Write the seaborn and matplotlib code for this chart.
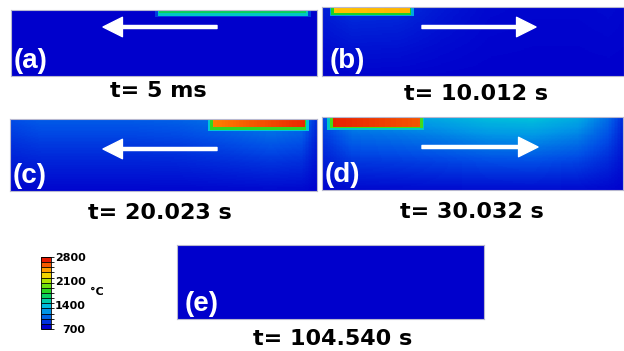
import numpy as np
import matplotlib
matplotlib.use('Agg')
import matplotlib.pyplot as plt
from matplotlib.colors import LinearSegmentedColormap, Normalize
import matplotlib.cm as cm
import seaborn as sns

# ---------------- data ----------------
panel_labels = ['(a)', '(b)', '(c)', '(d)', '(e)']
time_labels = ['t= 5 ms', 't= 10.012 s', 't= 20.023 s', 't= 30.032 s', 't= 104.540 s']
scan_direction = ['left', 'right', 'left', 'right', None]

cbar_ticks = [700, 1400, 2100, 2800]
cbar_bands = 14
T_min, T_max = 700, 2800

# laser track on the top surface (fraction of sample length / depth)
spot_start = [0.487, 0.040, 0.660, 0.033, None]
spot_end = [0.964, 0.288, 0.958, 0.326, None]
spot_depth = [0.05, 0.09, 0.12, 0.13, None]
spot_T_left = [1680, 2380, 2550, 2780, None]
spot_T_right = [1680, 2420, 2760, 2650, None]
halo_T = [1450, 1800, 1850, 1900, None]
halo2_T = [900, 1250, 1400, 1450, None]

# substrate surface temperature outside the track
surf_pos = [0.0, 0.10, 0.25, 0.40, 0.55, 0.70, 0.85, 0.95, 1.0]
surf_T = [
    [700, 700, 700, 700, 700, 700, 700, 700, 700],
    [800, 860, 850, 780, 730, 720, 720, 730, 720],
    [950, 1000, 1000, 1000, 1020, 1080, 1150, 1100, 850],
    [950, 1180, 1220, 1280, 1360, 1380, 1280, 1060, 850],
    [700, 700, 700, 700, 700, 700, 700, 700, 700],
]
depth_pos = [0.0, 0.3, 0.6, 1.0]
depth_frac = [1.0, 0.68, 0.38, 0.06]

# colour scale nodes (°C -> colour)
cmap_T = [700, 950, 1200, 1400, 1600, 1800, 2100, 2350, 2550, 2800]
cmap_col = [(0, 0, 0.80), (0, 0.30, 0.90), (0, 0.60, 0.90), (0, 0.78, 0.85),
            (0, 0.80, 0.50), (0.10, 0.82, 0.15), (0.60, 0.90, 0.0),
            (1.0, 0.82, 0.0), (1.0, 0.50, 0.0), (0.90, 0.10, 0.0)]

# ---------------- layout (pixels) ----------------
W, H = 624, 351
boxes = [(11, 10, 306, 66), (322, 7, 302, 69), (10, 119, 307, 72),
         (322, 117, 301, 73), (177, 245, 307, 74)]
arrows = [(217, 103, 27), (422, 536, 27), (217, 103, 149), (422, 538, 147), None]
label_dx = [0.008, 0.026, 0.008, 0.010, 0.024]
time_xy = [(158, 91), (476, 94), (160, 213), (472, 212), (333, 339)]

NR, NC = 60, 200


def frac(b):
    x, y, w, h = b
    return [x / W, 1 - (y + h) / H, w / W, h / H]


cmap = LinearSegmentedColormap.from_list(
    'temp', [((t - T_min) / (T_max - T_min), c) for t, c in zip(cmap_T, cmap_col)])


def build_field(i):
    xs = (np.arange(NC) + 0.5) / NC
    ys = (np.arange(NR) + 0.5) / NR
    top = np.interp(xs, surf_pos, surf_T[i])
    dec = np.interp(ys, depth_pos, depth_frac)
    F = T_min + np.outer(dec, top - T_min)
    if spot_start[i] is not None:
        s0, s1, d = spot_start[i], spot_end[i], spot_depth[i]
        for hx, hy, ht in [(0.016, 0.05, halo2_T[i]), (0.008, 0.025, halo_T[i])]:
            mx = (xs >= s0 - hx) & (xs <= s1 + hx)
            my = ys <= d + hy
            F[np.ix_(my, mx)] = np.maximum(F[np.ix_(my, mx)], ht)
        sx = (xs >= s0) & (xs <= s1)
        sy = ys <= d
        vals = np.interp(xs[sx], [s0, s1], [spot_T_left[i], spot_T_right[i]])
        F[np.ix_(sy, sx)] = vals[None, :]
    return F


fig = plt.figure(figsize=(W / 100, H / 100), dpi=100)

for i in range(5):
    ax = fig.add_axes(frac(boxes[i]))
    sns.heatmap(build_field(i), ax=ax, cmap=cmap, vmin=T_min, vmax=T_max,
                cbar=False, xticklabels=False, yticklabels=False)
    for sp in ax.spines.values():
        sp.set_visible(True)
        sp.set_color('#b8b8d0')
        sp.set_linewidth(0.8)
    ax.text(label_dx[i], 0.03, panel_labels[i], transform=ax.transAxes,
            color='white', fontsize=20, fontweight='bold',
            family=['Liberation Sans', 'DejaVu Sans'], ha='left', va='bottom')
    if arrows[i] is not None:
        x0, x1, y = arrows[i]
        ax.annotate('', xy=(x1, H - y), xytext=(x0, H - y),
                    xycoords='figure pixels', textcoords='figure pixels',
                    arrowprops=dict(facecolor='white', edgecolor='white',
                                    width=2.2, headwidth=14, headlength=14,
                                    shrink=0))
    tx, ty = time_xy[i]
    fig.text(tx / W, 1 - ty / H, time_labels[i], fontsize=16, fontweight='bold',
             family='DejaVu Sans', ha='center', va='center', color='black')

# colour bar
cax = fig.add_axes(frac((41, 257, 10, 72)))
sm = cm.ScalarMappable(norm=Normalize(T_min, T_max), cmap=cmap.resampled(cbar_bands))
cb = fig.colorbar(sm, cax=cax, ticks=cbar_ticks)
cb.outline.set_linewidth(0.6)
cax.tick_params(length=0, pad=25)
cax.set_yticklabels([str(t) for t in cbar_ticks], fontsize=8, fontweight='bold')
for lbl in cax.get_yticklabels():
    lbl.set_ha('right')
bounds = np.linspace(T_min, T_max, cbar_bands + 1)
cax.hlines(bounds, 0, 1.25, colors='black', linewidth=0.6, clip_on=False)
fig.text(97 / W, 1 - 292 / H, '°C', fontsize=8, fontweight='bold',
         ha='center', va='center')

fig.savefig('out.png', dpi=100)
